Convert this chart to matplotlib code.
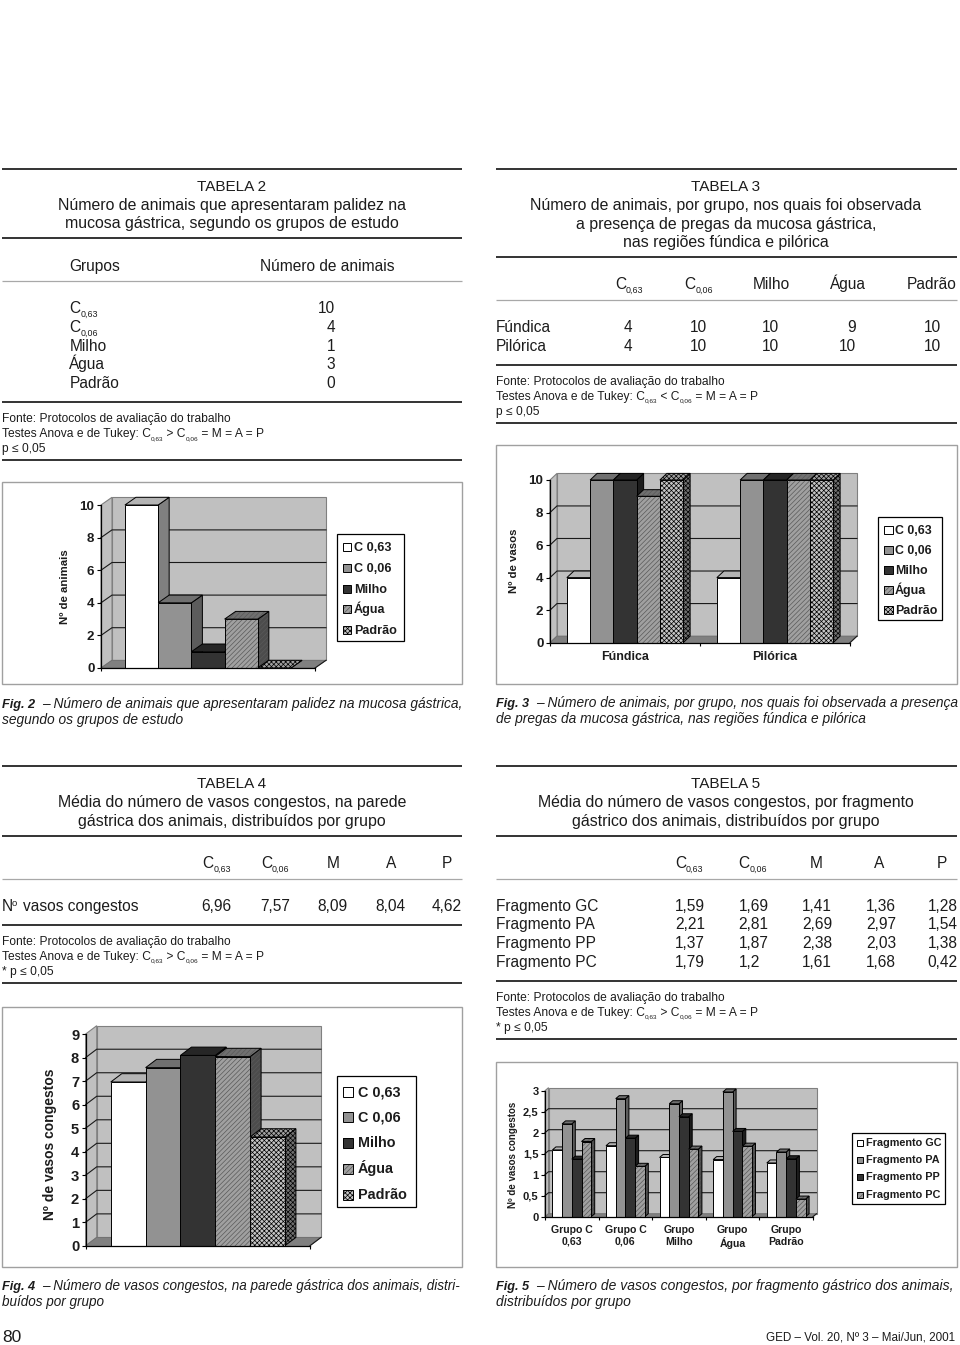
import matplotlib
matplotlib.use("Agg")
import matplotlib.pyplot as plt
from matplotlib.patches import Rectangle, Polygon

plt.rcParams['font.family'] = ['Liberation Sans', 'DejaVu Sans']
plt.rcParams['hatch.linewidth'] = 0.5

W, H = 960, 1345

# ---------- data ----------
series_names = ['C 0,63', 'C 0,06', 'Milho', 'Água', 'Padrão']
fragment_names = ['Fragmento GC', 'Fragmento PA', 'Fragmento PP', 'Fragmento PC']

t2_groups = ['Milho', 'Água', 'Padrão']
fig2_values = [10, 4, 1, 3, 0]

fig3_regions = ['Fúndica', 'Pilórica']
fig3_fundica = [4, 10, 10, 9, 10]
fig3_pilorica = [4, 10, 10, 10, 10]

fig4_values = [6.96, 7.57, 8.09, 8.04, 4.62]
t4_labels = ['6,96', '7,57', '8,09', '8,04', '4,62']

fig5_groups = ['Grupo C\n0,63', 'Grupo C\n0,06', 'Grupo\nMilho', 'Grupo\nÁgua', 'Grupo\nPadrão']
fig5_gc = [1.59, 1.69, 1.41, 1.36, 1.28]
fig5_pa = [2.21, 2.81, 2.69, 2.97, 1.54]
fig5_pp = [1.37, 1.87, 2.38, 2.03, 1.38]
fig5_pc = [1.79, 1.2, 1.61, 1.68, 0.42]
t5_gc = ['1,59', '1,69', '1,41', '1,36', '1,28']
t5_pa = ['2,21', '2,81', '2,69', '2,97', '1,54']
t5_pp = ['1,37', '1,87', '2,38', '2,03', '1,38']
t5_pc = ['1,79', '1,2', '1,61', '1,68', '0,42']

# front, top, side, hatch, hatch colour
STYLES = [
    ('#ffffff', '#b4b4b4', '#808080', None, 'black'),
    ('#929292', '#707070', '#5c5c5c', None, 'black'),
    ('#333333', '#262626', '#1c1c1c', None, 'black'),
    ('#a0a0a0', '#707070', '#4c4c4c', '///////', '#5a5a5a'),
    ('#c4c4c4', '#a0a0a0', '#707070', 'xxxxxxx', 'black'),
]

fig = plt.figure(figsize=(W / 100, H / 100), dpi=100, facecolor='white')
page = fig.add_axes([0, 0, 1, 1], zorder=0)
page.set_xlim(0, W)
page.set_ylim(H, 0)
page.axis('off')
renderer = fig.canvas.get_renderer()
INK = '#1c1c1c'
BODY = 11.2
TITLE = 11.4


def txt(x, y, s, size=BODY, ha='left', **kw):
    kw.setdefault('color', INK)
    return page.text(x, y, s, fontsize=size, ha=ha, va='baseline', **kw)


def rich(x, y, parts, size, subsize, drop):
    for s, is_sub in parts:
        t = page.text(x, y + (drop if is_sub else 0), s, fontsize=subsize if is_sub else size,
                      ha='left', va='baseline', color=INK)
        x += t.get_window_extent(renderer).width


def rule(x0, x1, y, thick=True):
    page.plot([x0, x1], [y, y], color='#1a1a1a' if thick else '#a8a8a8',
              lw=1.25 if thick else 0.9, solid_capstyle='butt')


def cgroup(x, y, sub):
    rich(x, y, [('C', False), (sub, True)], BODY, 6.4, 4)


def titles(xc, ys, lines):
    txt(xc, ys[0], lines[0], 11, ha='center')
    for y, s in zip(ys[1:], lines[1:]):
        txt(xc, y, s, TITLE, ha='center')


def notes(x, y, relation, p):
    txt(x, y, 'Fonte: Protocolos de avaliação do trabalho', 8.65)
    rich(x, y + 15, [('Testes Anova e de Tukey: C', False), ('0,63', True),
                     (f' {relation} C', False), ('0,06', True),
                     (' = M = A = P', False)], 8.65, 4.6, 2.5)
    txt(x, y + 30, p, 8.65)


def frame(x0, y0, x1, y1):
    page.add_patch(Rectangle((x0, y0), x1 - x0, y1 - y0, fc='white', ec='#a0a0a0', lw=1.0))


def chart(l, r, t, b, xlim, ymax, depth, yticks, ylabels, xticks, tick_size,
          ylabel, ylabel_x, ylabel_y, ylabel_size):
    ax = fig.add_axes([l / W, 1 - b / H, (r - l) / W, (b - t) / H], zorder=2)
    ax.set_xlim(*xlim)
    ax.set_ylim(0, ymax)
    ax.patch.set_visible(False)
    for s in ('top', 'right'):
        ax.spines[s].set_visible(False)
    for s in ('left', 'bottom'):
        ax.spines[s].set_linewidth(0.9)
        ax.spines[s].set_zorder(50)
    dx = depth[0] * (xlim[1] - xlim[0]) / (r - l)
    dy = depth[1] * ymax / (b - t)
    x0, x1 = xlim
    wall = dict(clip_on=False, ec='#808080', lw=0.8, zorder=1)
    ax.add_patch(Polygon([(x0 + dx, dy), (x1 + dx, dy), (x1 + dx, ymax + dy), (x0 + dx, ymax + dy)],
                         fc='#c0c0c0', **wall))
    ax.add_patch(Polygon([(x0, 0), (x0 + dx, dy), (x0 + dx, ymax + dy), (x0, ymax)],
                         fc='#c0c0c0', **wall))
    ax.add_patch(Polygon([(x0, 0), (x1, 0), (x1 + dx, dy), (x0 + dx, dy)],
                         fc='#808080', ec='#707070', lw=0.6, clip_on=False, zorder=1))
    for v in yticks[1:-1]:
        ax.plot([x0, x0 + dx, x1 + dx], [v, v + dy, v + dy], color='#1a1a1a', lw=0.8,
                clip_on=False, zorder=2)
    ax.plot([x1, x1 + dx], [0, dy], color='#1a1a1a', lw=0.8, clip_on=False, zorder=2)
    ax.set_yticks(yticks, ylabels, fontsize=tick_size, fontweight='bold', color=INK)
    ax.set_xticks(xticks, [''] * len(xticks))
    ax.tick_params(axis='y', length=3.2, width=0.8, pad=1.5)
    ax.tick_params(axis='x', length=2.5, width=0.8)
    page.text(ylabel_x, ylabel_y, ylabel, rotation=90, ha='center', va='center',
              fontsize=ylabel_size, fontweight='bold', color=INK)
    ax._dd = (dx, dy)
    ax._z = 3
    return ax


def bar3d(ax, xc, w, h, style):
    dx, dy = ax._dd
    face, top, side, hatch, hcol = style
    z = ax._z
    ax._z += 1
    x0, x1 = xc - w / 2, xc + w / 2
    side_pts = [(x1, 0), (x1 + dx, dy), (x1 + dx, h + dy), (x1, h)]
    top_pts = [(x0, h), (x1, h), (x1 + dx, h + dy), (x0 + dx, h + dy)]
    for pts, fc in ((side_pts, side), (top_pts, top)):
        ax.add_patch(Polygon(pts, fc=fc, ec=hcol if hatch else 'none', lw=0, hatch=hatch,
                             clip_on=False, zorder=z))
        ax.add_patch(Polygon(pts, fill=False, ec='black', lw=0.7, clip_on=False, zorder=z))
    ax.bar([xc], [h], width=w, color=face, edgecolor=hcol if hatch else 'none', linewidth=0,
           hatch=hatch, clip_on=False, zorder=z)
    ax.bar([xc], [h], width=w, fill=False, edgecolor='black', linewidth=0.7,
           clip_on=False, zorder=z)


def legend_box(names, x0, y0, x1, y1, ys, sw_x, sw, text_x, size):
    page.add_patch(Rectangle((x0, y0), x1 - x0, y1 - y0, fc='white', ec='black', lw=0.9))
    for name, y, st in zip(names, ys, STYLES):
        page.add_patch(Rectangle((sw_x, y - sw / 2), sw, sw, fc=st[0], ec=st[4] if st[3] else 'none',
                                 lw=0, hatch=st[3]))
        page.add_patch(Rectangle((sw_x, y - sw / 2), sw, sw, fill=False, ec='black', lw=0.7))
        page.text(text_x, y + 0.3 * size * 100 / 72, name, fontsize=size, fontweight='bold',
                  ha='left', va='baseline', color=INK)


def caption(x, y, lead, first, second, size):
    page.text(x, y, lead, fontsize=9.2, fontstyle='italic', fontweight='bold',
              ha='left', va='baseline', color=INK)
    txt(x + 40, y, first, size, fontstyle='italic')
    txt(x, y + 16, second, size, fontstyle='italic')


# ---------- TABELA 2 ----------
rule(2, 462, 169)
titles(232, [190.7, 210, 228.3],
       ['TABELA 2', 'Número de animais que apresentaram palidez na',
        'mucosa gástrica, segundo os grupos de estudo'])
rule(2, 462, 238)
txt(69.3, 271, 'Grupos')
txt(260, 271, 'Número de animais')
rule(2, 462, 281.3, False)
cgroup(69.3, 313.3, '0,63')
cgroup(69.3, 332.3, '0,06')
for y, s in zip([350.7, 369.3, 388], t2_groups):
    txt(69.3, y, s)
for y, v in zip([313.3, 332.3, 350.7, 369.3, 388], fig2_values):
    txt(335, y, str(v), ha='right')
rule(2, 462, 402)
notes(2, 422.3, '>', 'p ≤ 0,05')
rule(2, 462, 460.3)

# ---------- TABELA 3 ----------
rule(496, 957, 169)
titles(726, [191, 210, 228.7, 247.3],
       ['TABELA 3', 'Número de animais, por grupo, nos quais foi observada',
        'a presença de pregas da mucosa gástrica,', 'nas regiões fúndica e pilórica'])
rule(496, 957, 256.7)
cgroup(615, 289.3, '0,63')
cgroup(684.3, 289.3, '0,06')
for x, s in zip([771, 848, 931.7], series_names[2:]):
    txt(x, 289.3, s, ha='center')
rule(496, 957, 300, False)
right_cols = [632.7, 706.7, 779.3, 855.7, 940.7]
for y, name, row in zip([332, 350.7], fig3_regions, [fig3_fundica, fig3_pilorica]):
    txt(496, y, name)
    for x, v in zip(right_cols, row):
        txt(x, y, str(v), ha='right')
rule(496, 957, 365)
notes(496, 385, '<', 'p ≤ 0,05')
rule(496, 957, 422.7)

# ---------- Fig. 2 ----------
frame(2, 482, 462, 684)
ax = chart(101, 315, 505, 668, (-3.22, 3.22), 10, (11, 7.7), [0, 2, 4, 6, 8, 10],
           ['0', '2', '4', '6', '8', '10'], [-3.22, 3.22], 9.6, 'Nº de animais', 65, 587, 8.2)
for i, v in enumerate(fig2_values):
    bar3d(ax, i - 2, 1, v, STYLES[i])
legend_box(series_names, 337, 534, 404, 641, [547, 568, 589, 609, 630], 343, 8, 354, 9.05)
caption(2, 707.7, 'Fig. 2', '– Número de animais que apresentaram palidez na mucosa gástrica,',
        'segundo os grupos de estudo', 9.93)

# ---------- Fig. 3 ----------
frame(496, 445, 957, 684)
ax = chart(550, 850, 480, 642.7, (-0.5, 1.5), 10, (7, 6.6), [0, 2, 4, 6, 8, 10],
           ['0', '2', '4', '6', '8', '10'], [-0.5, 0.5, 1.5], 9.6, 'Nº de vasos', 514, 560.7, 8.2)
w3 = 0.155
for c, row in enumerate([fig3_fundica, fig3_pilorica]):
    for i, v in enumerate(row):
        bar3d(ax, c + (i - 2) * w3, w3, v, STYLES[i])
ax.set_xticks([0, 1], fig3_regions, minor=True, fontsize=8.95, fontweight='bold', color=INK)
ax.tick_params(axis='x', which='minor', length=0, pad=6)
legend_box(series_names, 878.3, 517, 942, 620, [530, 550, 570, 590, 610], 884, 8.5, 894.7, 8.9)
caption(496, 707.3, 'Fig. 3', '– Número de animais, por grupo, nos quais foi observada a presença',
        'de pregas da mucosa gástrica, nas regiões fúndica e pilórica', 9.88)

# ---------- TABELA 4 ----------
rule(2, 462, 766)
titles(232, [788.3, 807.3, 826],
       ['TABELA 4', 'Média do número de vasos congestos, na parede',
        'gástrica dos animais, distribuídos por grupo'])
rule(2, 462, 835.7)
cgroup(202.7, 868.3, '0,63')
cgroup(261, 868.3, '0,06')
for x, s in zip([332.7, 391, 447.3], 'MAP'):
    txt(x, 868.3, s, ha='center')
rule(2, 462, 878.7, False)
txt(2, 911, 'N')
txt(12, 906, 'o', 6.8)
txt(22.7, 911, 'vasos congestos')
for x, s in zip([216.7, 274.7, 332.7, 390.7, 446.7], t4_labels):
    txt(x, 911, s, ha='center')
rule(2, 462, 924.7)
notes(2, 945, '>', '* p ≤ 0,05')
rule(2, 462, 983)

# ---------- TABELA 5 ----------
rule(496, 957, 766)
titles(726, [788.3, 807.3, 826],
       ['TABELA 5', 'Média do número de vasos congestos, por fragmento',
        'gástrico dos animais, distribuídos por grupo'])
rule(496, 957, 835.7)
cgroup(675, 868.3, '0,63')
cgroup(738.7, 868.3, '0,06')
for x, s in zip([816, 879.3, 941.7], 'MAP'):
    txt(x, 868.3, s, ha='center')
rule(496, 957, 878.7, False)
left_cols = [675, 738.7, 802, 866, 927.7]
for y, name, row in zip([910.7, 929.3, 948, 966.7], fragment_names, [t5_gc, t5_pa, t5_pp, t5_pc]):
    txt(496, y, name)
    for x, s in zip(left_cols, row):
        txt(x, y, s)
rule(496, 957, 980.7)
notes(496, 1001, '>', '* p ≤ 0,05')
rule(496, 957, 1039.3)

# ---------- Fig. 4 ----------
frame(2, 1007, 462, 1267)
ax = chart(85.7, 310, 1034, 1245.7, (-3.22, 3.22), 9, (11, 8.3), list(range(10)),
           [str(i) for i in range(10)], [-3.22, 3.22], 10.6, 'Nº de vasos congestos', 50, 1144, 10)
for i, v in enumerate(fig4_values):
    bar3d(ax, i - 2, 1, v, STYLES[i])
legend_box(series_names, 336.7, 1076, 415.7, 1207, [1091.7, 1117, 1143, 1169, 1195], 343, 10, 358, 10.4)
caption(2, 1290, 'Fig. 4', '– Número de vasos congestos, na parede gástrica dos animais, distri-',
        'buídos por grupo', 9.72)

# ---------- Fig. 5 ----------
frame(496, 1062, 957, 1267)
ax = chart(545, 813, 1090.7, 1216.7, (-0.5, 4.5), 3, (3.5, 3), [0, 0.5, 1, 1.5, 2, 2.5, 3],
           ['0', '0,5', '1', '1,5', '2', '2,5', '3'], [-0.5, 0.5, 1.5, 2.5, 3.5, 4.5], 8.0,
           'Nº de vasos congestos', 512.7, 1155, 7)
w5 = 0.181
for c in range(5):
    for i, row in enumerate([fig5_gc, fig5_pa, fig5_pp, fig5_pc]):
        bar3d(ax, c + (i - 1.5) * w5, w5, row[c], STYLES[i])
ax.set_xticks([0, 1, 2, 3, 4], fig5_groups, minor=True, fontsize=7.6, fontweight='bold', color=INK)
ax.tick_params(axis='x', which='minor', length=0, pad=6)
legend_box(fragment_names, 851.7, 1132.7, 945, 1204, [1143, 1160, 1177, 1195], 856.7, 6.5, 865.7, 7.8)
caption(496, 1290, 'Fig. 5', '– Número de vasos congestos, por fragmento gástrico dos animais,',
        'distribuídos por grupo', 10.0)

# ---------- footer ----------
txt(2, 1341.7, '80', 12.5)
txt(955, 1341, 'GED – Vol. 20, Nº 3 – Mai/Jun, 2001', 8.4, ha='right')

fig.savefig('out.png', dpi=100, facecolor='white')
